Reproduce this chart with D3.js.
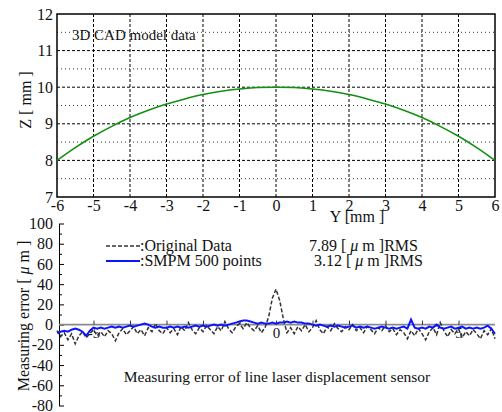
<!DOCTYPE html>
<html>
<head>
<meta charset="utf-8">
<script src="https://cdn.jsdelivr.net/npm/d3@7"></script>
<style>
    body { margin: 0; background: white; }
</style>
</head>
<body>
<div id="chartContainer"></div>
<script>
// ---- data ----
// 3D CAD model profile (Y [mm] -> Z [mm])
var cadY = [-6, -5.5, -5, -4.5, -4, -3.5, -3, -2.5, -2, -1.5, -1, -0.5, 0,
    0.5, 1, 1.5, 2, 2.5, 3, 3.5, 4, 4.5, 5, 5.5, 6];
var cadZ = [8.00, 8.35, 8.66, 8.93, 9.17, 9.37, 9.54, 9.68, 9.80, 9.89, 9.95, 9.99, 10.00,
    9.99, 9.95, 9.89, 9.80, 9.68, 9.54, 9.37, 9.17, 8.93, 8.66, 8.35, 8.00];

// measuring error, one sample every 0.1 mm from Y = -6 to 6
var errStart = -6, errStep = 0.1;
var originalErr = [
    -6, -12, -8, -15, -9, -19, -11, -7, -13, -9,
    -5, -11, -7, -12, -6, -9, -16, -8, -4, -10,
    -6, -2, -9, -5, -11, -3, -7, 1, -6, -9,
    -3, -8, -4, -10, -2, -6, 2, -5, -9, -3,
    -7, -1, -5, -9, -2, -6, 3, -4, -8, -2,
    1, -4, 2, -3, -6, -1, -8, -3, 8, 26,
    35,
    24, 6, -8, -3, -9, -2, -6, 0, -7, -3,
    4, -5, -9, -2, -6, 1, -4, -7, -2, -5,
    0, -6, -3, -8, -2, -5, -9, -3, -6, -1,
    -7, -4, -10, -5, -8, -14, -6, -11, -4, -9,
    -15, -7, -3, -10, 2, -6, -12, -5, -9, -4,
    -13, -7, -11, -5, -9, -14, -6, -10, -4, -14
];
var smpmErr = [
    -8, -7, -6, -7, -5, -4, -5, -7, -11, -6,
    -3, -4, -3, -4, -3, -2, -3, -2, -3, -2,
    -1, -2, -1, 0, 1, 0, -2, -3, -2, -3,
    -3, -2, -3, -2, -3, -2, -3, -2, -1, -2,
    -1, -2, -1, 0, -1, 0, -1, 0, 1, 2,
    3, 4, 4, 3, 2, 1, 2, 1, 1, 2,
    1,
    2, 2, 3, 2, 3, 2, 2, 1, 1, 0,
    -1, 0, -1, -2, -1, -2, -1, -2, -3, -2,
    -1, -3, -2, -3, -2, -3, -4, -3, -2, -3,
    -4, -3, -4, -3, -2, -4, 5, -3, -4, -3,
    -4, -2, -3, 0, -3, -4, -3, -2, -4, -3,
    -2, -4, -3, -4, -3, -4, -3, -1, -4, -9
];

var topYTicks = [-6, -5, -4, -3, -2, -1, 0, 1, 2, 3, 4, 5, 6];
var topZTicks = [7, 8, 9, 10, 11, 12];
var topZMinor = [7.5, 8.5, 9.5, 10.5, 11.5];
var errTicks = [-80, -60, -40, -20, 0, 20, 40, 60, 80, 100];
var errMinor = [-70, -50, -30, -10, 10, 30, 50, 70, 90];
var errYLabels = [-5, 0, 5];
var errYMinor = [-5, -4, -3, -2, -1, 0, 1, 2, 3, 4, 5];

var legendRows = [
    { name: ":Original Data", rms: "7.89" },
    { name: ":SMPM 500 points", rms: "3.12" }
];

// ---- layout ----
var width = 502, height = 412;
var plotLeft = 57, plotRight = 495;
var topArea = { top: 14, bottom: 197 };
var errArea = { top: 223.5, bottom: 405.5, axisX: 59 };
var serif = '"Liberation Serif", "Times New Roman", serif';
var plainNum = d => String(d);   // hyphen minus like the original

var gridDash = 'stroke: #000; stroke-width: 1; stroke-dasharray: 3,2;';
var gridDot = 'stroke: #333; stroke-width: 1; stroke-dasharray: 1,3;';

var svg = d3.select("#chartContainer")
    .append("svg")
    .attr("width", width)
    .attr("height", height)
    .attr("font-family", serif);

var x = d3.scaleLinear().domain([-6, 6]).range([plotLeft, plotRight]);
var z = d3.scaleLinear().domain([7, 12]).range([topArea.bottom, topArea.top]);

function styleTicks(g, size) {
    g.attr("font-family", null);
    g.selectAll("text")
        .attr("font-family", serif)
        .attr("font-size", size)
        .attr("fill", "#111");
}

// ---- top chart: 3D CAD model ----
var cadChart = svg.append("g");

cadChart.selectAll(".vgrid")
    .data(topYTicks.slice(1, -1))
    .enter().append("line")
    .attr("x1", d => x(d)).attr("x2", d => x(d))
    .attr("y1", topArea.top).attr("y2", topArea.bottom)
    .attr("style", gridDash);

cadChart.selectAll(".hgrid")
    .data(topZTicks.slice(1, -1))
    .enter().append("line")
    .attr("x1", plotLeft).attr("x2", plotRight)
    .attr("y1", d => z(d)).attr("y2", d => z(d))
    .attr("style", gridDash);

cadChart.selectAll(".hminor")
    .data(topZMinor)
    .enter().append("line")
    .attr("x1", plotLeft).attr("x2", plotRight)
    .attr("y1", d => z(d)).attr("y2", d => z(d))
    .attr("style", gridDot);

cadChart.append("rect")
    .attr("x", plotLeft).attr("y", topArea.top)
    .attr("width", plotRight - plotLeft)
    .attr("height", topArea.bottom - topArea.top)
    .attr("fill", "none")
    .attr("stroke", "#000")
    .attr("stroke-width", 1.5);

let cadLine = d3.line()
    .x((d, i) => x(cadY[i]))
    .y(d => z(d))
    .curve(d3.curveMonotoneX);

cadChart.append("path")
    .datum(cadZ)
    .attr("d", cadLine)
    .attr("fill", "none")
    .attr("stroke", "#109010")
    .attr("stroke-width", 1.6);

cadChart.append("g")
    .attr("transform", `translate(${plotLeft}, 0)`)
    .call(d3.axisLeft(z).tickValues(topZTicks).tickFormat(plainNum).tickSize(0).tickPadding(4))
    .call(g => g.select(".domain").remove())
    .call(g => styleTicks(g, 16));

cadChart.append("g")
    .attr("transform", `translate(0, ${topArea.bottom})`)
    .call(d3.axisBottom(x).tickValues(topYTicks).tickFormat(plainNum).tickSize(0).tickPadding(3))
    .call(g => g.select(".domain").remove())
    .call(g => styleTicks(g, 16));

cadChart.append("text")
    .attr("x", 72).attr("y", 40)
    .attr("font-size", 15)
    .attr("fill", "#111")
    .text("3D CAD model data");

cadChart.append("text")
    .attr("x", 357).attr("y", 222)
    .attr("text-anchor", "middle")
    .attr("font-size", 16)
    .attr("fill", "#111")
    .text("Y [mm ]");

cadChart.append("text")
    .attr("transform", "translate(31, 100) rotate(-90)")
    .attr("text-anchor", "middle")
    .attr("font-size", 16)
    .attr("fill", "#111")
    .text("Z [ mm ]");

// ---- bottom chart: measuring error ----
var e = d3.scaleLinear().domain([-80, 100]).range([errArea.bottom, errArea.top]);
var errChart = svg.append("g");

errChart.append("g")
    .attr("transform", `translate(${errArea.axisX}, 0)`)
    .call(d3.axisLeft(e).tickValues(errTicks).tickFormat(plainNum)
        .tickSizeInner(-5).tickSizeOuter(0).tickPadding(6))
    .call(g => styleTicks(g, 16))
    .call(g => g.selectAll("line, path").attr("stroke", "#000"));

errChart.append("g")
    .attr("transform", `translate(${errArea.axisX}, 0)`)
    .call(d3.axisLeft(e).tickValues(errMinor).tickSize(-3).tickFormat(""))
    .call(g => g.select(".domain").remove());

// zero line with position ticks
errChart.append("line")
    .attr("x1", errArea.axisX).attr("x2", plotRight)
    .attr("y1", e(0)).attr("y2", e(0))
    .attr("stroke", "#8a8a8a")
    .attr("stroke-width", 1.8);

errChart.append("g")
    .attr("transform", `translate(0, ${e(0)})`)
    .call(d3.axisBottom(x).tickValues(errYMinor).tickSize(-4).tickFormat(""))
    .call(g => g.select(".domain").remove())
    .call(g => g.selectAll("line").attr("stroke", "#333"));

errChart.append("g")
    .attr("transform", `translate(0, ${e(0)})`)
    .call(d3.axisBottom(x).tickValues(errYLabels).tickFormat(plainNum).tickSize(0).tickPadding(3))
    .call(g => g.select(".domain").remove())
    .call(g => styleTicks(g, 15));

let errLine = d3.line()
    .x((d, i) => x(errStart + i * errStep))
    .y(d => e(d));

errChart.append("path")
    .datum(originalErr)
    .attr("d", errLine)
    .attr("fill", "none")
    .attr("stroke", "#333")
    .attr("stroke-width", 1.5)
    .attr("stroke-dasharray", "4,2");

errChart.append("path")
    .datum(smpmErr)
    .attr("d", errLine)
    .attr("fill", "none")
    .attr("stroke", "#0a14ff")
    .attr("stroke-width", 2);

// legend
var legend = errChart.append("g");
legend.append("line")
    .attr("x1", 106).attr("x2", 140).attr("y1", 246).attr("y2", 246)
    .attr("stroke", "#333").attr("stroke-width", 1.5).attr("stroke-dasharray", "4,2");
legend.append("line")
    .attr("x1", 106).attr("x2", 140).attr("y1", 261).attr("y2", 261)
    .attr("stroke", "#0a14ff").attr("stroke-width", 2);

legend.selectAll(".lname")
    .data(legendRows)
    .enter().append("text")
    .attr("x", 140)
    .attr("y", (d, i) => 251 + i * 15)
    .attr("font-size", 16)
    .attr("fill", "#111")
    .text(d => d.name);

let rmsText = legend.selectAll(".lrms")
    .data(legendRows)
    .enter().append("text")
    .attr("x", (d, i) => i == 0 ? 309 : 314)
    .attr("y", (d, i) => 251 + i * 15)
    .attr("font-size", 16)
    .attr("fill", "#111");
rmsText.append("tspan").text(d => d.rms + " [ ");
rmsText.append("tspan").attr("font-style", "italic").text("\u03bc");
rmsText.append("tspan").text(" m ]RMS");

errChart.append("text")
    .attr("x", 277).attr("y", 382)
    .attr("text-anchor", "middle")
    .attr("font-size", 15.5)
    .attr("fill", "#111")
    .text("Measuring error of line laser displacement sensor");

let errLabel = errChart.append("text")
    .attr("transform", "translate(29, 316) rotate(-90)")
    .attr("text-anchor", "middle")
    .attr("font-size", 16)
    .attr("fill", "#111");
errLabel.append("tspan").text("Measuring error [ ");
errLabel.append("tspan").attr("font-style", "italic").text("\u03bc");
errLabel.append("tspan").text(" m ]");
</script>
</body>
</html>
